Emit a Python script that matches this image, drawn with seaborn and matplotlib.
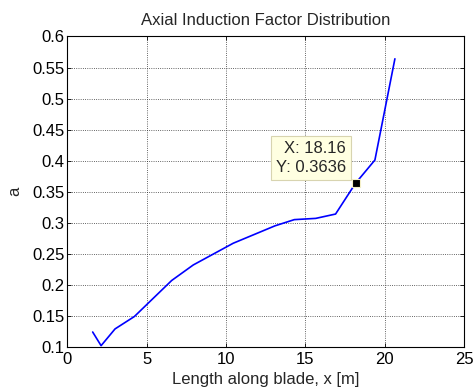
import matplotlib
matplotlib.use("Agg")
import matplotlib.pyplot as plt
import seaborn as sns
import pandas as pd

# Blade stations and axial induction factor at each
x_pos = [1.59, 2.12, 3.0, 4.22, 6.57, 7.93, 10.45, 13.08, 14.3, 15.65, 16.9, 18.16, 19.38, 20.64]
a_val = [0.124, 0.102, 0.129, 0.149, 0.207, 0.232, 0.267, 0.295, 0.305, 0.307, 0.314, 0.3636, 0.401, 0.564]

# Highlighted data point
tip_x = 18.16
tip_y = 0.3636

x_ticks = [0, 5, 10, 15, 20, 25]
y_ticks = [0.1, 0.15, 0.2, 0.25, 0.3, 0.35, 0.4, 0.45, 0.5, 0.55, 0.6]

sns.set_style("ticks")
plt.rcParams["font.family"] = ["Liberation Sans", "DejaVu Sans"]

df = pd.DataFrame({"x": x_pos, "a": a_val})

fig = plt.figure(figsize=(4.75, 3.92), dpi=100)
ax = fig.add_axes([0.142, 0.115, 0.835, 0.792])

sns.lineplot(data=df, x="x", y="a", ax=ax, sort=False, estimator=None,
             color=(0, 0, 1), linewidth=1.2)

ax.set_xlim(0, 25)
ax.set_ylim(0.1, 0.6)
ax.set_xticks(x_ticks)
ax.set_yticks(y_ticks)
ax.set_xticklabels([str(v) for v in x_ticks])
ax.set_yticklabels([f"{v:g}" for v in y_ticks])
ax.grid(True, color="#333333", linestyle=":", linewidth=0.6)
ax.set_axisbelow(True)
ax.tick_params(direction="in", length=3, width=0.6, top=True, right=True,
               labelsize=12, colors="black", pad=2)
ax.tick_params(axis="x", pad=4)
for s in ax.spines.values():
    s.set_linewidth(0.8)
    s.set_color("black")
    s.set_visible(True)

ax.set_title("Axial Induction Factor Distribution", fontsize=12, pad=8)
ax.set_xlabel("Length along blade, x [m]", fontsize=12, labelpad=3)
ax.set_ylabel("a", fontsize=12, labelpad=7)

ax.plot([tip_x], [tip_y], marker="s", markersize=6, color="black",
        markeredgecolor="#f5f0c8", markeredgewidth=0.8, zorder=5)
ax.annotate(f"X: {tip_x:.2f}\nY: {tip_y:.4f}", xy=(tip_x, tip_y),
            xytext=(-7, 6), textcoords="offset points", ha="right", va="bottom",
            fontsize=12, multialignment="right", linespacing=1.3,
            bbox=dict(boxstyle="square,pad=0.3", facecolor="#ffffe1",
                      edgecolor="#d8d4b0", linewidth=0.8), zorder=6)

fig.savefig("out.png", dpi=100)
